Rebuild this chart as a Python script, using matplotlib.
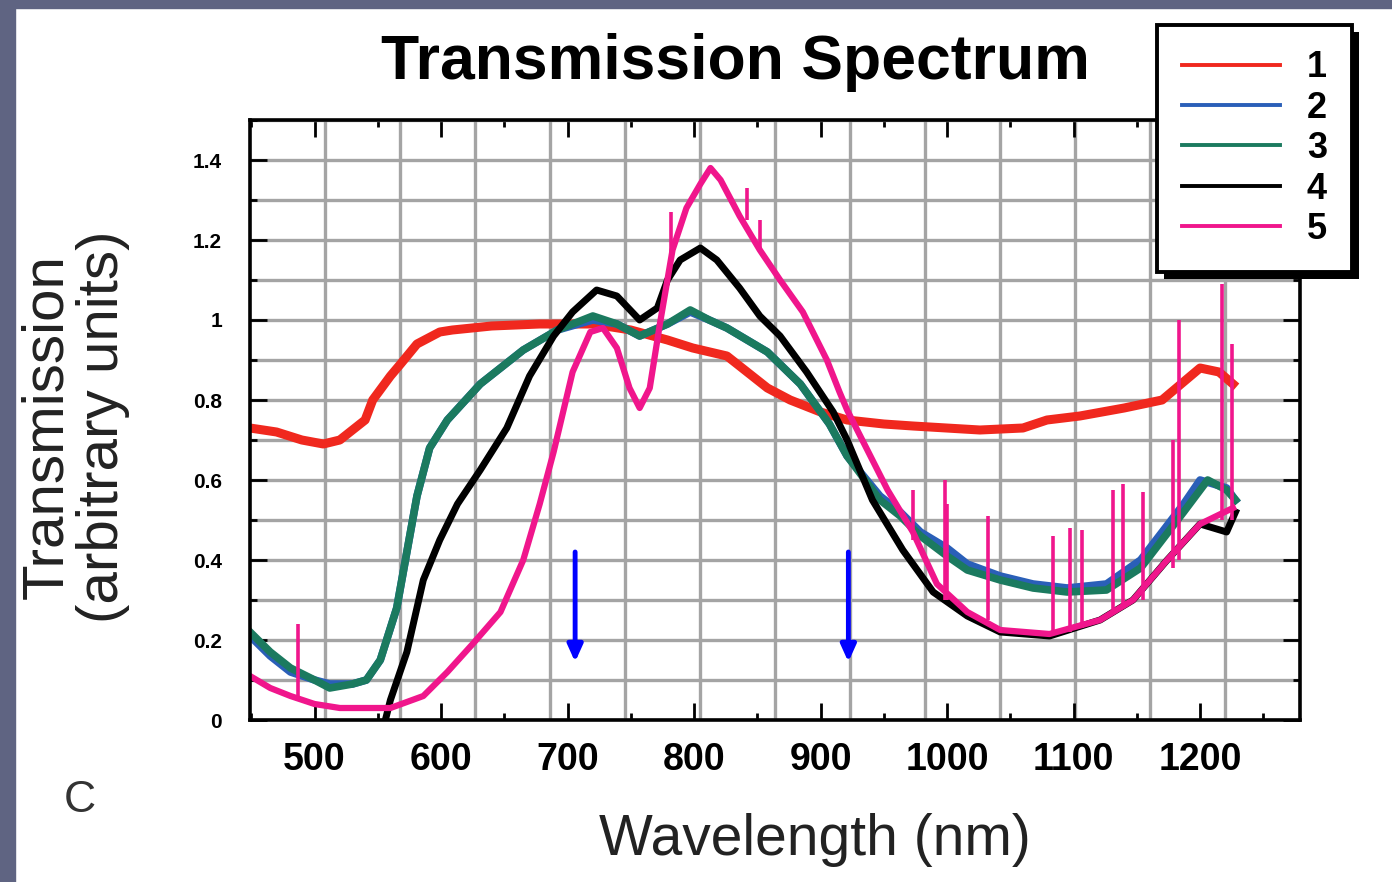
import matplotlib.pyplot as plt
from matplotlib.lines import Line2D
from matplotlib.patches import Rectangle
from matplotlib.ticker import MultipleLocator, FuncFormatter
import matplotlib.patheffects as pe

# ---- data (wavelength nm, transmission a.u.) ----
wl1 = [449, 470, 490, 507, 520, 540, 546, 560, 568, 581, 599, 609, 640, 678,
       720, 750, 779, 799, 826, 858, 876, 900, 921, 950, 973, 1026, 1060,
       1079, 1105, 1140, 1170, 1200, 1215, 1226]
t1 = [0.73, 0.72, 0.70, 0.69, 0.70, 0.75, 0.80, 0.86, 0.89, 0.94, 0.97, 0.975,
      0.985, 0.99, 0.99, 0.975, 0.95, 0.93, 0.91, 0.83, 0.80, 0.77, 0.75, 0.74,
      0.735, 0.725, 0.73, 0.75, 0.76, 0.78, 0.80, 0.88, 0.87, 0.84]

wl2 = [449, 465, 481, 500, 512, 530, 541, 552, 565, 573, 581, 591, 605, 631,
       665, 692, 720, 739, 757, 779, 797, 812, 826, 858, 884, 907, 921, 947,
       963, 979, 1000, 1016, 1042, 1068, 1095, 1126, 1153, 1187, 1200, 1221, 1228]
t2 = [0.21, 0.16, 0.12, 0.10, 0.09, 0.09, 0.10, 0.15, 0.28, 0.42, 0.56, 0.68,
      0.75, 0.84, 0.925, 0.975, 1.0, 0.99, 0.96, 0.99, 1.02, 1.0, 0.98, 0.92,
      0.84, 0.74, 0.66, 0.56, 0.52, 0.47, 0.43, 0.39, 0.36, 0.34, 0.33, 0.34,
      0.40, 0.54, 0.60, 0.58, 0.55]

wl3 = [449, 465, 481, 500, 512, 530, 541, 552, 565, 573, 581, 591, 605, 631,
       665, 692, 720, 739, 757, 779, 797, 812, 826, 858, 884, 907, 921, 947,
       963, 979, 1000, 1016, 1042, 1068, 1095, 1126, 1153, 1187, 1206, 1221, 1228]
t3 = [0.22, 0.17, 0.13, 0.10, 0.08, 0.09, 0.10, 0.15, 0.28, 0.42, 0.56, 0.68,
      0.75, 0.84, 0.925, 0.975, 1.01, 0.99, 0.96, 0.99, 1.025, 1.0, 0.98, 0.92,
      0.84, 0.74, 0.66, 0.55, 0.51, 0.46, 0.41, 0.375, 0.35, 0.33, 0.32, 0.325,
      0.38, 0.52, 0.60, 0.575, 0.55]

wl4 = [556, 560, 573, 586, 599, 613, 631, 652, 670, 689, 704, 723, 739, 757,
       771, 779, 789, 805, 818, 836, 852, 868, 889, 910, 921, 941, 965, 989,
       1016, 1042, 1081, 1121, 1147, 1174, 1200, 1221, 1228]
t4 = [0.0, 0.05, 0.17, 0.35, 0.45, 0.54, 0.625, 0.73, 0.86, 0.96, 1.02, 1.075,
      1.06, 1.0, 1.03, 1.1, 1.15, 1.18, 1.15, 1.08, 1.01, 0.96, 0.87, 0.77,
      0.70, 0.55, 0.425, 0.32, 0.26, 0.22, 0.21, 0.25, 0.30, 0.40, 0.49, 0.47,
      0.52]

wl5 = [449, 465, 481, 500, 520, 560, 586, 605, 625, 647, 665, 678, 689, 704,
       718, 728, 739, 749, 757, 765, 773, 783, 794, 805, 813, 821, 836, 852,
       868, 886, 905, 915, 921, 937, 953, 973, 992, 1016, 1042, 1081, 1121,
       1147, 1174, 1200, 1226]
t5 = [0.11, 0.08, 0.06, 0.04, 0.03, 0.03, 0.06, 0.12, 0.19, 0.27, 0.40, 0.54,
      0.67, 0.87, 0.97, 0.98, 0.93, 0.83, 0.78, 0.83, 0.99, 1.175, 1.28, 1.34,
      1.38, 1.35, 1.26, 1.175, 1.1, 1.02, 0.9, 0.82, 0.775, 0.675, 0.575, 0.47,
      0.34, 0.27, 0.225, 0.215, 0.25, 0.30, 0.40, 0.49, 0.53]

# sharp spikes on trace 5
spike_nm = [487, 782, 842, 852, 973, 998, 1000, 1032, 1084, 1097, 1107, 1131,
            1139, 1155, 1179, 1183, 1217, 1225]
spike_lo = [0.05, 1.15, 1.25, 1.17, 0.45, 0.30, 0.30, 0.25, 0.22, 0.22, 0.23,
            0.27, 0.28, 0.30, 0.38, 0.40, 0.50, 0.50]
spike_hi = [0.24, 1.27, 1.33, 1.25, 0.575, 0.60, 0.54, 0.51, 0.46, 0.48, 0.475,
            0.575, 0.59, 0.57, 0.70, 1.0, 1.09, 0.94]

series = [(wl1, t1), (wl2, t2), (wl3, t3), (wl4, t4), (wl5, t5)]
names = ['1', '2', '3', '4', '5']
colors = ['#f0281e', '#2a5fb8', '#1b7a5f', '#000000', '#f0168c']
widths = [6.5, 5.5, 5.5, 5, 4.5]

arrow_nm = [706, 922]
arrow_top, arrow_tip = 0.42, 0.145

W, H = 1392, 882
fig = plt.figure(figsize=(W / 100, H / 100), dpi=100)

# slate frame strips from the slide
fig.patches.append(Rectangle((0, 0), 15 / W, 1, transform=fig.transFigure,
                             color='#5f6482', zorder=0))
fig.patches.append(Rectangle((0, 1 - 8 / H), 1, 8 / H, transform=fig.transFigure,
                             color='#5f6482', zorder=0))

ax = fig.add_axes([250 / W, 1 - 720 / H, 1050 / W, 600 / H])
ax.set_xlim(449, 1279)
ax.set_ylim(0, 1.5)

# grid: 14 equal vertical cells, horizontal every 0.1
gridcol = '#a4a4a4'
for k in range(1, 14):
    ax.plot([k / 14, k / 14], [0, 1], transform=ax.transAxes, color=gridcol,
            lw=2.4, zorder=0.5)
ax.yaxis.set_major_locator(MultipleLocator(0.2))
ax.yaxis.set_minor_locator(MultipleLocator(0.1))
ax.grid(axis='y', which='both', color=gridcol, lw=2.4)
ax.set_axisbelow(True)

for (x, y), c, w in zip(series, colors, widths):
    ax.plot(x, y, color=c, lw=w, zorder=2)
ax.vlines(spike_nm, spike_lo, spike_hi, color=colors[4], lw=2.6, zorder=2)

for x in arrow_nm:
    ax.annotate('', xy=(x, arrow_tip), xytext=(x, arrow_top),
                arrowprops=dict(arrowstyle='-|>,head_length=1.0,head_width=0.45',
                                color='#0000ff', lw=3.5, shrinkA=0, shrinkB=0),
                zorder=3)

ax.xaxis.set_major_locator(MultipleLocator(100))
ax.xaxis.set_minor_locator(MultipleLocator(50))
ax.yaxis.set_major_formatter(FuncFormatter(lambda v, p: f'{v:g}'))
ax.tick_params(which='both', direction='in', top=True, right=True, width=2,
               color='black')
ax.tick_params(which='major', length=12)
ax.tick_params(which='minor', length=5)
ax.tick_params(axis='x', pad=16)
ax.tick_params(axis='y', pad=20)
for lab in ax.get_xticklabels():
    lab.set_fontfamily('Liberation Sans')
    lab.set_fontweight('bold')
    lab.set_fontsize(27)
for lab in ax.get_yticklabels():
    lab.set_fontfamily('Liberation Sans')
    lab.set_fontweight('bold')
    lab.set_fontsize(15)
for s in ax.spines.values():
    s.set_linewidth(2.6)

fig.text(735 / W, 1 - 62 / H, 'Transmission Spectrum', ha='center', va='center',
         fontsize=45, fontweight='bold', family='Liberation Sans')
fig.text(815 / W, 1 - 840 / H, 'Wavelength (nm)', ha='center', va='center',
         fontsize=41, family='Liberation Sans', color='#222222')
fig.text(75 / W, 1 - 427 / H, 'Transmission\n(arbitrary units)', ha='center',
         va='center', rotation=90, multialignment='center', linespacing=1.05,
         fontsize=42, family='Liberation Sans', color='#222222')
fig.text(80 / W, 1 - 800 / H, 'C', ha='center', va='center', fontsize=32,
         family='Liberation Sans', color='#333333')

handles = [Line2D([], [], color=c, lw=2.8) for c in colors]
leg = fig.legend(handles, names, loc='upper left',
                 bbox_to_anchor=(1157 / W, 1 - 25 / H), borderaxespad=0,
                 frameon=True, fancybox=False, edgecolor='black',
                 framealpha=1, prop=dict(family='Liberation Sans',
                                         weight='bold', size=26),
                 handlelength=2.7, handletextpad=0.75, labelspacing=0.15,
                 borderpad=0.7)
leg.get_frame().set_linewidth(2.8)
leg.get_frame().set_path_effects([
    pe.SimplePatchShadow(offset=(5, -5), shadow_rgbFace='black', alpha=1),
    pe.Normal()])

fig.savefig('out.png', dpi=100)
